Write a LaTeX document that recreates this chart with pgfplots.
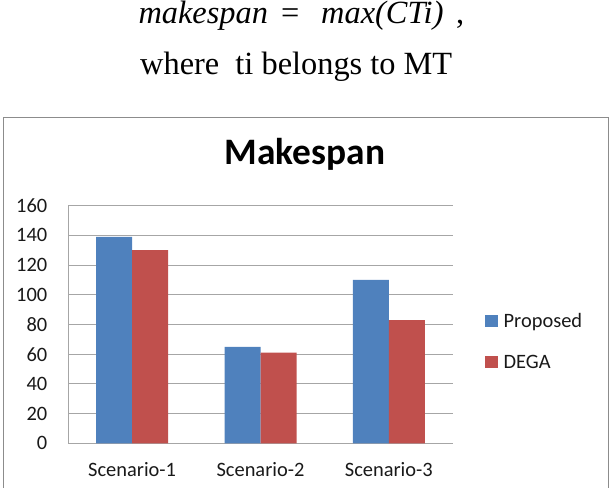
\documentclass[border=0pt]{standalone}
\usepackage{pgfplots}
\pgfplotsset{compat=1.18}
\usepackage{fontspec}
\setmainfont{Liberation Serif}
\newfontfamily\calibri{Carlito}
\definecolor{xlblue}{HTML}{4F81BD}
\definecolor{xlred}{HTML}{C0504D}
\definecolor{gridgray}{HTML}{A6A6A6}
\definecolor{boxgray}{HTML}{8C8C8C}
\begin{document}
\begin{tikzpicture}[x=1bp,y=1bp]
\path[use as bounding box] (0,0) rectangle (616,488);
% formula text
\node[anchor=base west, inner sep=0, font=\fontsize{32.5}{38}\selectfont\itshape] at (138.3,464) {makespan};
\node[anchor=base west, inner sep=0, font=\fontsize{32.5}{38}\selectfont] at (281,464) {=};
\node[anchor=base west, inner sep=0, font=\fontsize{32.5}{38}\selectfont\itshape] at (321,464) {max(CTi)};
\node[anchor=base west, inner sep=0, font=\fontsize{32.5}{38}\selectfont] at (456,464) {,};
\node[anchor=base west, inner sep=0, font=\fontsize{32.5}{38}\selectfont] at (140,413) {where\ \ ti belongs to MT};
% chart frame
\draw[boxgray, line width=1.5bp] (3.3,-5) -- (3.3,370.7) -- (608.3,370.7) -- (608.3,-5);
\begin{axis}[
  at={(68bp,44.7bp)}, anchor=south west,
  scale only axis, width=385bp, height=237.6bp,
  xmin=-0.5, xmax=2.5, ymin=0, ymax=160,
  xtick={0,1,2}, xticklabels={Scenario-1,Scenario-2,Scenario-3},
  ytick={0,20,...,160},
  /pgf/number format/assume math mode=true,
  major tick length=0pt,
  axis x line*=bottom, axis y line*=left,
  axis line style={gridgray, line width=1bp, -},
  ymajorgrids, grid style={gridgray, line width=1bp},
  ticklabel style={font=\calibri\fontsize{20.5}{24}\selectfont, inner sep=0pt, text=black!90},
  yticklabel style={anchor=east, xshift=-20.5bp},
  xticklabel style={anchor=base, yshift=-33.4bp},
  title={Makespan},
  title style={font=\calibri\bfseries\fontsize{37.5}{44}\selectfont, at={(axis description cs:0.6156,1.1502)}, anchor=base, inner sep=0pt},
  legend style={draw=none, fill=none, at={(axis description cs:1.083,0.429)}, anchor=west, inner sep=0pt, font=\calibri\fontsize{20.5}{24}\selectfont, row sep=26bp, nodes={inner sep=0pt, text=black!90}},
  legend cell align=left,
  legend image code/.code={\fill[#1] (0bp,-6bp) rectangle (12.5bp,6bp); \path (18.5bp,0bp);},
]
\addplot[ybar, bar width=36bp, bar shift=-18bp, fill=xlblue, draw=none] coordinates {(0,139) (1,65) (2,110)};
\addplot[ybar, bar width=36bp, bar shift=18bp, fill=xlred, draw=none] coordinates {(0,130) (1,61) (2,83)};
\legend{Proposed,DEGA}
\end{axis}
\end{tikzpicture}
\end{document}
